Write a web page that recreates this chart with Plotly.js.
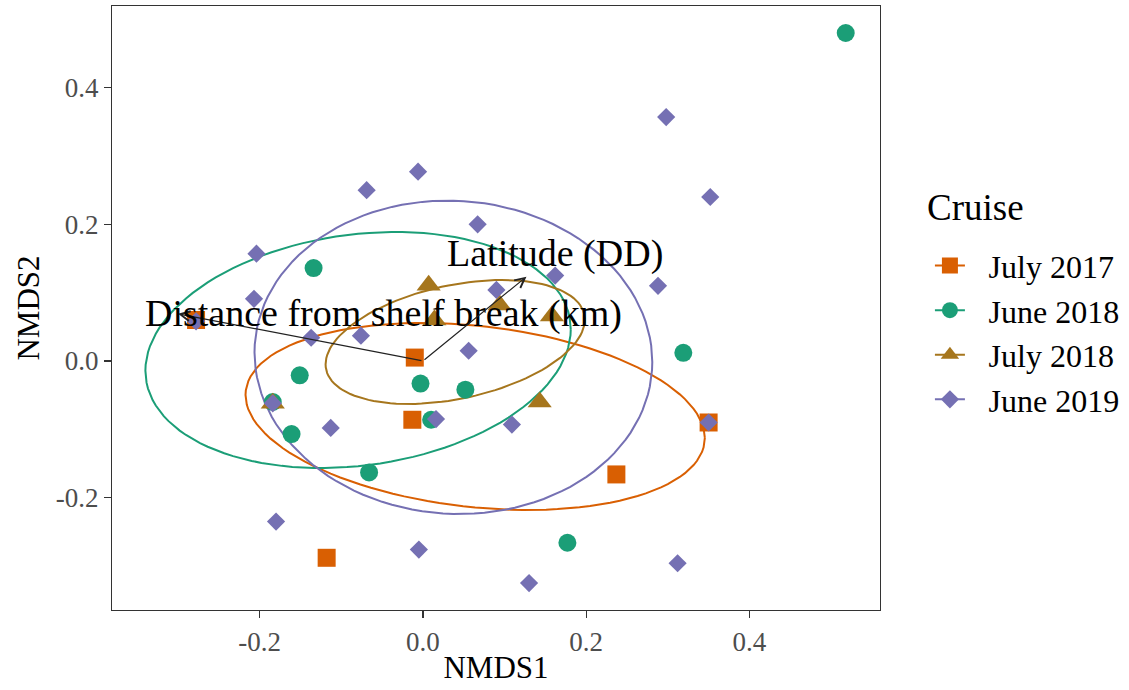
<!DOCTYPE html>
<html>
<head>
<meta charset="utf-8">
<script src="https://cdn.plot.ly/plotly-3.0.1.min.js"></script>
<style>
  html, body { margin: 0; padding: 0; background: #ffffff; }
  #chart { width: 1129px; height: 690px; }
</style>
</head>
<body>
<div id="chart"></div>
<script>
// NMDS site scores by cruise
const cruises = ["July 2017", "June 2018", "July 2018", "June 2019"];
const cruiseColors = ["#D95F02", "#1B9E77", "#A6761D", "#7570B3"];
const cruiseSymbols = ["square", "circle", "triangle-up", "diamond"];
const cruiseSizes = [18, 18, 21, 14];

const july2017X = [-0.278, -0.010, -0.013, -0.118, 0.237, 0.350];
const july2017Y = [0.060, 0.005, -0.086, -0.288, -0.166, -0.090];

const june2018X = [0.518, -0.134, -0.151, -0.003, 0.052, 0.010, -0.161, -0.066, 0.319, 0.177, -0.184];
const june2018Y = [0.480, 0.136, -0.021, -0.033, -0.042, -0.086, -0.107, -0.163, 0.012, -0.266, -0.060];

const july2018X = [0.007, 0.014, 0.094, 0.158, 0.143, -0.184];
const july2018Y = [0.111, 0.060, 0.082, 0.066, -0.060, -0.062];

const june2019X = [-0.204, -0.069, -0.006, 0.067, -0.207, 0.298, 0.352, 0.162, 0.090, 0.288,
                   -0.137, -0.076, 0.056, -0.184, -0.113, 0.016, -0.180, -0.005, -0.278, 0.109,
                   0.350, 0.130, 0.312];
const june2019Y = [0.157, 0.250, 0.277, 0.200, 0.091, 0.357, 0.240, 0.125, 0.104, 0.110,
                   0.034, 0.037, 0.015, -0.062, -0.098, -0.085, -0.235, -0.276, 0.058, -0.093,
                   -0.090, -0.325, -0.296];

const scoresX = [july2017X, june2018X, july2018X, june2019X];
const scoresY = [july2017Y, june2018Y, july2018Y, june2019Y];

// 95% ellipse per cruise: centre, half-extent along each axis, correlation
const ellCx = [0.064, -0.0795, 0.0395, 0.0373];
const ellCy = [-0.0812, 0.0161, 0.0278, 0.0054];
const ellWx = [0.2814, 0.2606, 0.1588, 0.2437];
const ellWy = [0.1368, 0.1727, 0.0907, 0.2293];
const ellR  = [-0.23, 0.175, 0.36, -0.03];

// Fitted environmental vectors
const vectorNames = ["Distance from shelf break (km)", "Latitude (DD)"];
const vectorX = [-0.300, 0.1268];
const vectorY = [0.069, 0.1234];
const labelX = [-0.0488, 0.162];
const labelY = [0.0702, 0.1566];

// Axis ticks
const xTickVals = [-0.2, 0.0, 0.2, 0.4];
const xTickText = ["-0.2", "0.0", "0.2", "0.4"];
const yTickVals = [-0.2, 0.0, 0.2, 0.4];
const yTickText = ["-0.2", "0.0", "0.2", "0.4"];

const legendTitle = "Cruise";

function ellipsePath(i) {
  const n = 120, xs = [], ys = [];
  const s = Math.sqrt(1 - ellR[i] * ellR[i]);
  for (let k = 0; k <= n; k++) {
    const t = 2 * Math.PI * k / n;
    xs.push(ellCx[i] + ellWx[i] * Math.cos(t));
    ys.push(ellCy[i] + ellWy[i] * (ellR[i] * Math.cos(t) + s * Math.sin(t)));
  }
  return {xs, ys};
}

const traces = [];
cruises.forEach((name, i) => {
  const e = ellipsePath(i);
  traces.push({
    x: e.xs, y: e.ys, type: "scatter", mode: "lines",
    line: {color: cruiseColors[i], width: 2},
    showlegend: false, hoverinfo: "skip"
  });
});
cruises.forEach((name, i) => {
  traces.push({
    x: scoresX[i], y: scoresY[i], type: "scatter", mode: "markers", name: name,
    marker: {color: cruiseColors[i], symbol: cruiseSymbols[i], size: cruiseSizes[i], line: {width: 0}},
    showlegend: false
  });
});
// legend keys: line + symbol, with a little extra gap before the label
cruises.forEach((name, i) => {
  traces.push({
    x: [null], y: [null], type: "scatter", mode: "lines+markers",
    name: "\u00a0\u00a0\u200a" + name,
    line: {color: cruiseColors[i], width: 2},
    marker: {color: cruiseColors[i], symbol: cruiseSymbols[i], size: cruiseSizes[i]},
    showlegend: true
  });
});

const annotations = [];
vectorNames.forEach((name, i) => {
  annotations.push({
    x: vectorX[i], y: vectorY[i], xref: "x", yref: "y",
    ax: 0, ay: 0, axref: "x", ayref: "y",
    text: "", showarrow: true, arrowhead: 5, arrowsize: 1.6, arrowwidth: 1.2,
    arrowcolor: "#222222", standoff: 0, startstandoff: 0
  });
  annotations.push({
    x: labelX[i], y: labelY[i], xref: "x", yref: "y",
    text: name, showarrow: false, xanchor: "center", yanchor: "middle",
    font: {family: "Liberation Serif", size: 38, color: "#000000"}
  });
});
// legend heading
annotations.push({
  x: 1.0586, y: 0.6656, xref: "paper", yref: "paper",
  text: legendTitle, showarrow: false, xanchor: "left", yanchor: "middle",
  font: {family: "Liberation Serif", size: 37, color: "#000000"}
});

const layout = {
  width: 1129, height: 690,
  margin: {l: 112, r: 249, t: 6, b: 80, pad: 0, autoexpand: false},
  paper_bgcolor: "#ffffff", plot_bgcolor: "#ffffff",
  font: {family: "Liberation Serif", color: "#000000"},
  xaxis: {
    range: [-0.381, 0.560], showgrid: false, zeroline: false,
    showline: true, mirror: true, linecolor: "#333333", linewidth: 1.2,
    ticks: "outside", ticklen: 7, tickwidth: 1.2, tickcolor: "#333333",
    tickmode: "array", tickvals: xTickVals, ticktext: xTickText,
    tickfont: {family: "Liberation Serif", size: 27, color: "#4D4D4D"},
    title: {text: "NMDS1", font: {family: "Liberation Serif", size: 31, color: "#000000"}, standoff: 0}
  },
  yaxis: {
    range: [-0.3644, 0.5195], showgrid: false, zeroline: false,
    showline: true, mirror: true, linecolor: "#333333", linewidth: 1.2,
    ticks: "outside", ticklen: 7, tickwidth: 1.2, tickcolor: "#333333",
    tickmode: "array", tickvals: yTickVals, ticktext: yTickText,
    tickfont: {family: "Liberation Serif", size: 27, color: "#4D4D4D"},
    title: {text: "NMDS2", font: {family: "Liberation Serif", size: 31, color: "#000000"}, standoff: 6}
  },
  legend: {
    x: 1.065, xanchor: "left", y: 0.459, yanchor: "middle",
    font: {family: "Liberation Serif", size: 32, color: "#000000"},
    bgcolor: "rgba(0,0,0,0)", itemsizing: "trace", tracegroupgap: 0
  },
  annotations: annotations,
  showlegend: true
};

Plotly.newPlot("chart", traces, layout, {displayModeBar: false, staticPlot: true});
</script>
</body>
</html>
